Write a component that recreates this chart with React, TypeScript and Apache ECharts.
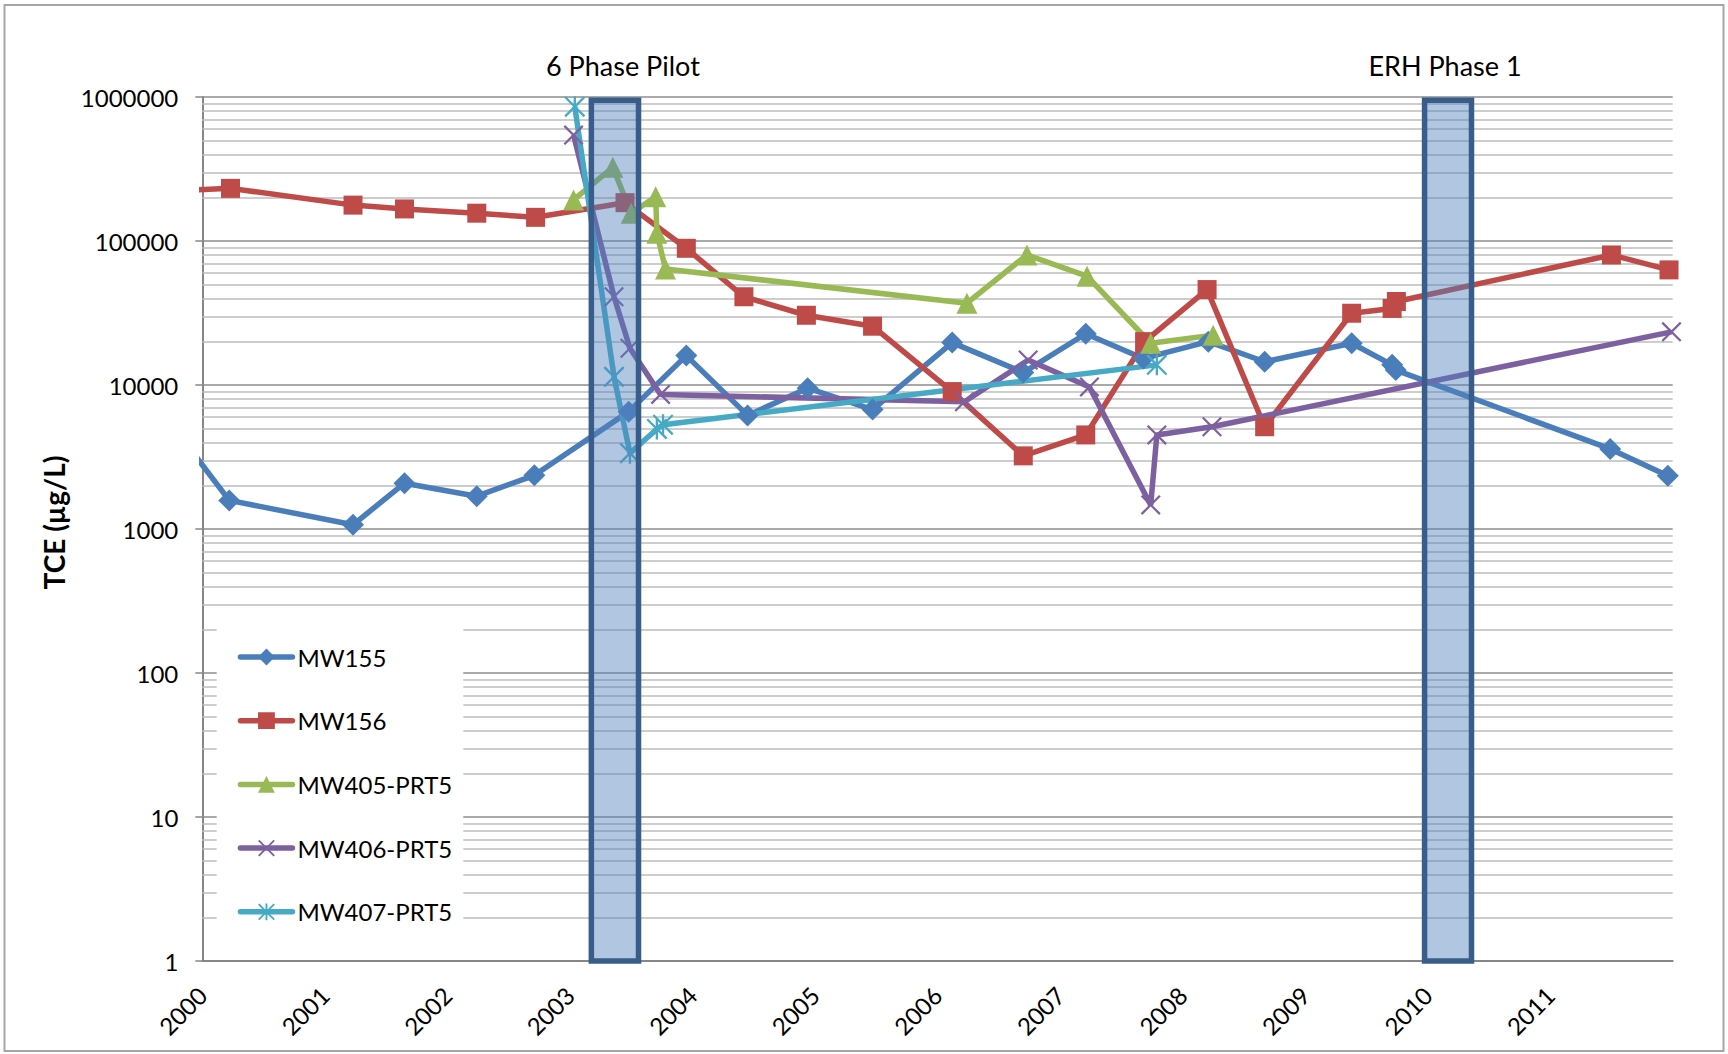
import React, { useEffect, useRef } from "react";
import * as echarts from "echarts";

// ---------------- data ----------------
const seriesNames = ["MW155", "MW156", "MW405-PRT5", "MW406-PRT5", "MW407-PRT5"];

const mw155Years = [1999.9, 2000.22, 2001.23, 2001.65, 2002.24, 2002.71, 2003.48, 2003.95, 2004.45, 2004.94, 2005.47, 2006.12, 2006.7, 2007.21, 2007.68, 2008.21, 2008.67, 2009.38, 2009.71, 2009.74, 2011.49, 2011.96];
const mw155Values = [3600, 1580, 1070, 2080, 1690, 2360, 6530, 16000, 6150, 9500, 6750, 19700, 12200, 22700, 15300, 20000, 14500, 19500, 13800, 12700, 3600, 2340];

const mw156Years = [1999.9, 2000.23, 2001.23, 2001.65, 2002.24, 2002.72, 2003.45, 2003.95, 2004.42, 2004.93, 2005.47, 2006.12, 2006.7, 2007.21, 2007.69, 2008.2, 2008.67, 2009.38, 2009.71, 2009.745, 2011.5, 2011.97];
const mw156Values = [226000, 232000, 177500, 167000, 156000, 146000, 184600, 89000, 41000, 30500, 25600, 9000, 3220, 4500, 20000, 46000, 5130, 31500, 34000, 38000, 80000, 63000];

const mw405Years = [2003.03, 2003.35, 2003.5, 2003.7, 2003.71, 2003.78, 2006.24, 2006.73, 2007.22, 2007.74, 2008.25];
const mw405Values = [193000, 325000, 155700, 203000, 113000, 64000, 37000, 80000, 57000, 19500, 22200];

const mw406Years = [2003.03, 2003.36, 2003.49, 2003.74, 2006.22, 2006.74, 2007.24, 2007.74, 2007.79, 2008.24, 2011.99];
const mw406Values = [544000, 41000, 18000, 8600, 7650, 14900, 9700, 1470, 4500, 5130, 23400];

const mw407Years = [2003.04, 2003.36, 2003.49, 2003.71, 2003.76, 2007.79];
const mw407Values = [857000, 11400, 3360, 4950, 5300, 13800];

const xMin = 2000;
const xMax = 2012;
const yMin = 1;
const yMax = 1000000;

const phaseNames = ["6 Phase Pilot", "ERH Phase 1"];
const phaseStarts = [2003.175, 2009.975];
const phaseEnds = [2003.56, 2010.358];
const phaseTop = 950000;

const decadeStarts = [1, 10, 100, 1000, 10000, 100000];
const minorSteps = [2, 3, 4, 5, 6, 7, 8, 9];

// ---------------- styles ----------------
const FONT = "Lato, 'Noto Sans', sans-serif";
const colors = ["#4a7ebb", "#be4b48", "#98b954", "#7d60a0", "#46aac5"];

// filled X and asterisk marker shapes
const X_PATH =
  "path://M-4.24,4.24L95.76,104.24L104.24,95.76L4.24,-4.24Z" +
  "M95.76,-4.24L-4.24,95.76L4.24,104.24L104.24,4.24Z";
const STAR_PATH = X_PATH + "M44,-4L44,104L56,104L56,-4Z";

const symbols = ["diamond", "rect", "triangle", X_PATH, STAR_PATH];
const symbolSizes = [22, 19, 21, 20, 21];

function pairs(xs: number[], ys: number[]) {
  return xs.map((x, i) => [x, ys[i]]);
}

export default function App() {
  const ref = useRef<HTMLDivElement>(null);

  useEffect(() => {
    document.body.style.margin = "0";
    if (!ref.current) return;
    const chart = echarts.init(ref.current, null, { renderer: "svg" });

    const allData = [
      pairs(mw155Years, mw155Values),
      pairs(mw156Years, mw156Values),
      pairs(mw405Years, mw405Values),
      pairs(mw406Years, mw406Values),
      pairs(mw407Years, mw407Values),
    ];

    const minorLines: any[] = [];
    decadeStarts.forEach((d) => minorSteps.forEach((s) => minorLines.push({ yAxis: d * s })));

    const areaData = phaseNames.map((name, i) => [
      {
        name,
        xAxis: phaseStarts[i],
        yAxis: phaseTop,
        label: { offset: [i === 0 ? 8 : -3, 0] },
      },
      { xAxis: phaseEnds[i], yAxis: yMin },
    ]);

    const series: any[] = seriesNames.map((name, i) => ({
      name,
      type: "line",
      data: allData[i],
      symbol: symbols[i],
      symbolSize: symbolSizes[i],
      showAllSymbol: true,
      clip: true,
      z: 2,
      lineStyle: { color: colors[i], width: 5.5 },
      itemStyle: { color: colors[i] },
    }));

    series[0].markLine = {
      silent: true,
      z: 1,
      symbol: "none",
      label: { show: false },
      lineStyle: { color: "#bcbcbc", width: 1.5, type: "solid" },
      emphasis: { disabled: true },
      data: minorLines,
    };
    series[0].markArea = {
      silent: true,
      z: 5,
      itemStyle: {
        color: "rgba(79,129,189,0.45)",
        borderColor: "#385d8a",
        borderWidth: 5.5,
      },
      label: {
        show: true,
        position: "top",
        distance: 18,
        fontSize: 27,
        color: "#000",
        fontFamily: FONT,
      },
      emphasis: { disabled: true },
      data: areaData,
    };

    chart.setOption({
      animation: false,
      backgroundColor: "#fff",
      textStyle: { fontFamily: FONT },
      grid: { left: 202.3, right: 55.3, top: 97, bottom: 93, containLabel: false },
      legend: {
        data: seriesNames,
        orient: "vertical",
        left: 237.7,
        top: 645,
        itemWidth: 52,
        itemHeight: 21,
        itemGap: 39.7,
        padding: 0,
        selectedMode: false,
        lineStyle: { width: 5.5, cap: "round" },
        textStyle: { fontSize: 24, color: "#000", fontFamily: FONT },
      },
      xAxis: {
        type: "value",
        min: xMin,
        max: xMax,
        interval: 1,
        axisLine: { lineStyle: { color: "#868686", width: 2 } },
        axisTick: { show: false },
        splitLine: { show: false },
        axisLabel: {
          rotate: 45,
          fontSize: 24,
          color: "#000",
          margin: 30,
          showMaxLabel: false,
          fontFamily: FONT,
          formatter: (v: number) => (v >= xMax ? "" : String(Math.round(v))),
        },
      },
      yAxis: {
        type: "log",
        logBase: 10,
        min: yMin,
        max: yMax,
        interval: 1,
        name: "TCE (µg/L)",
        nameLocation: "middle",
        nameGap: 134,
        nameTextStyle: {
          fontSize: 28,
          fontWeight: "bold",
          color: "#000",
          fontFamily: FONT,
          padding: [0, 0, 0, 13],
        },
        axisLine: { show: true, lineStyle: { color: "#868686", width: 2 } },
        axisTick: { show: true, length: 7, lineStyle: { color: "#868686", width: 1.5 } },
        splitLine: { show: true, lineStyle: { color: "#8c8c8c", width: 1.5 } },
        axisLabel: {
          fontSize: 24,
          color: "#000",
          margin: 24,
          fontFamily: FONT,
          formatter: (v: number) => String(Math.round(v)),
        },
      },
      graphic: [
        {
          type: "rect",
          silent: true,
          z: 3,
          shape: { x: 216.7, y: 619, width: 246.6, height: 331 },
          style: { fill: "#ffffff", stroke: "none" },
        },
        {
          type: "rect",
          silent: true,
          z: 10,
          shape: { x: 4.5, y: 5, width: 1719, height: 1046 },
          style: { fill: "none", stroke: "#a6a6a6", lineWidth: 2 },
        },
      ],
      series,
    });

    return () => chart.dispose();
  }, []);

  return <div ref={ref} style={{ width: 1728, height: 1054 }} />;
}
